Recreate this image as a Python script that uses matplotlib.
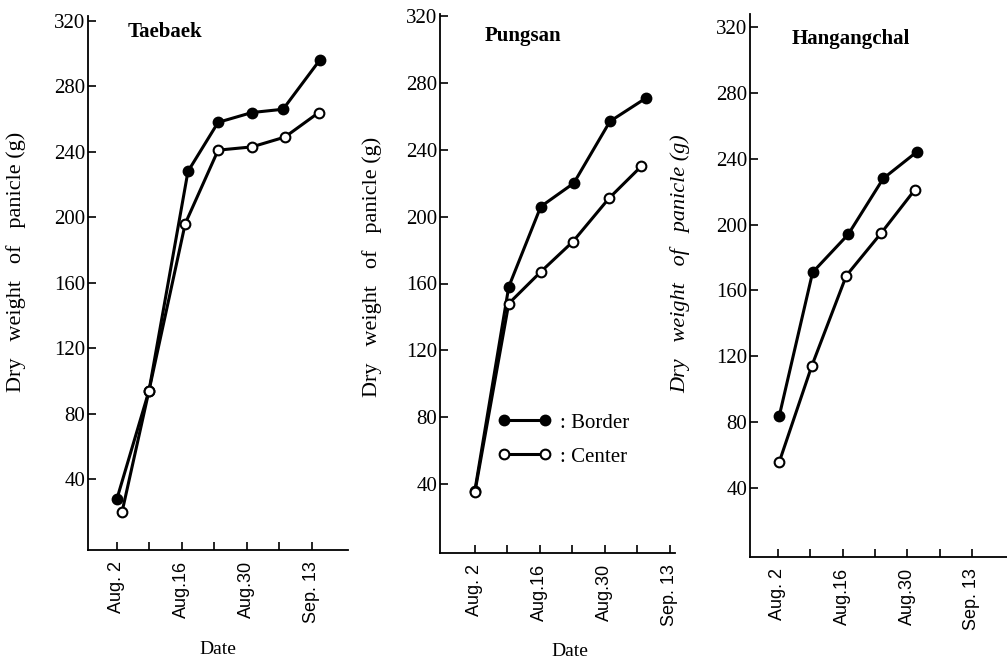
import matplotlib
matplotlib.use("Agg")
import matplotlib.pyplot as plt
from matplotlib.ticker import FixedLocator

# data (x = days after Aug. 2)
panels = ["Taebaek", "Pungsan", "Hangangchal"]

taebaek_border_x = [0, 6.9, 15.3, 21.8, 29.1, 35.8, 43.7]
taebaek_border_y = [28, 94, 228, 258, 264, 266, 296]
taebaek_center_x = [1.1, 6.9, 14.7, 21.8, 29.1, 36.2, 43.5]
taebaek_center_y = [20, 94, 196, 241, 243, 249, 264]

pungsan_border_x = [0, 7.3, 14.2, 21.3, 29.1, 36.9]
pungsan_border_y = [36, 158, 206, 220, 257, 271]
pungsan_center_x = [0, 7.3, 14.2, 21.1, 28.9, 35.8]
pungsan_center_y = [35, 148, 167, 185, 211, 230]

hangang_border_x = [0.3, 7.5, 15.2, 22.8, 30.0]
hangang_border_y = [84, 171, 194, 228, 244]
hangang_center_x = [0.3, 7.3, 14.8, 22.4, 29.6]
hangang_center_y = [56, 114, 169, 195, 221]

date_ticks = [0, 14, 28, 42]
date_labels = ["Aug. 2", "Aug.16", "Aug.30", "Sep. 13"]
week_ticks = [7, 21, 35]
y_ticks = [40, 80, 120, 160, 200, 240, 280, 320]

border = [(taebaek_border_x, taebaek_border_y),
          (pungsan_border_x, pungsan_border_y),
          (hangang_border_x, hangang_border_y)]
center = [(taebaek_center_x, taebaek_center_y),
          (pungsan_center_x, pungsan_center_y),
          (hangang_center_x, hangang_center_y)]

W, H = 1007, 658
fig = plt.figure(figsize=(W / 100, H / 100), dpi=100)

# axes boxes in pixels: left, right, top, bottom
boxes = [(88, 348, 16, 550), (440, 675, 14, 553), (750, 1007, 14, 557)]
xlims = [(-6.25, 49.8), (-7.5, 43.1), (-6.06, 49.6)]
ylims = [(-3.4, 323), (-1.2, 321.2), (-1.9, 327.9)]
title_pos = [(2.4, 313), (2.2, 308), (3.0, 313)]
ylabel_pos = [(-0.24, 0.54), (-0.247, 0.53), (-0.233, 0.54)]

serif = "Liberation Serif"
sans = "Liberation Sans"

for i, name in enumerate(panels):
    l, r, t, b = boxes[i]
    ax = fig.add_axes([l / W, 1 - b / H, (r - l) / W, (b - t) / H])

    bx, by = border[i]
    cx, cy = center[i]
    ax.plot(bx, by, color="black", lw=2.2, marker="o", markersize=7,
            markerfacecolor="black", markeredgecolor="black", mew=1.5,
            label=": Border", zorder=3)
    ax.plot(cx, cy, color="black", lw=2.2, marker="o", markersize=7,
            markerfacecolor="white", markeredgecolor="black", mew=1.5,
            label=": Center", zorder=3)

    ax.set_xlim(*xlims[i])
    ax.set_ylim(*ylims[i])

    # only left and bottom axis lines
    for s in ["top", "right"]:
        ax.spines[s].set_visible(False)
    for s in ["left", "bottom"]:
        ax.spines[s].set_linewidth(1.3)

    ax.set_yticks(y_ticks)
    ax.set_yticklabels([str(v) for v in y_ticks], fontfamily=serif, fontsize=15)
    ax.set_xticks(date_ticks)
    ax.set_xticklabels(date_labels, rotation=90, fontfamily=sans, fontsize=13)
    ax.xaxis.set_minor_locator(FixedLocator(week_ticks))
    ax.tick_params(axis="y", direction="in", length=6, width=1.2, pad=2)
    ax.tick_params(axis="x", which="both", direction="in", length=6, width=1.2, pad=8)

    ax.text(*title_pos[i], name, fontfamily=serif, fontsize=15,
            fontweight="bold", va="center", ha="left")

    ax.set_ylabel("Dry   weight   of   panicle (g)", fontfamily=serif, fontsize=16,
                  style="italic" if i == 2 else "normal")
    ax.yaxis.set_label_coords(*ylabel_pos[i])

    if i == 0:
        ax.set_xlabel("Date", fontfamily=serif, fontsize=14)
        ax.xaxis.set_label_coords(0.5, -0.17)
    if i == 1:
        ax.set_xlabel("Date", fontfamily=serif, fontsize=14)
        ax.xaxis.set_label_coords(0.553, -0.167)
        leg = ax.legend(loc="center left", bbox_to_anchor=(0.165, 0.21),
                        frameon=False, numpoints=2, handlelength=2.6,
                        handletextpad=0.4, labelspacing=0.7,
                        prop={"family": serif, "size": 15})

fig.savefig("out.png", dpi=100, facecolor="white")
